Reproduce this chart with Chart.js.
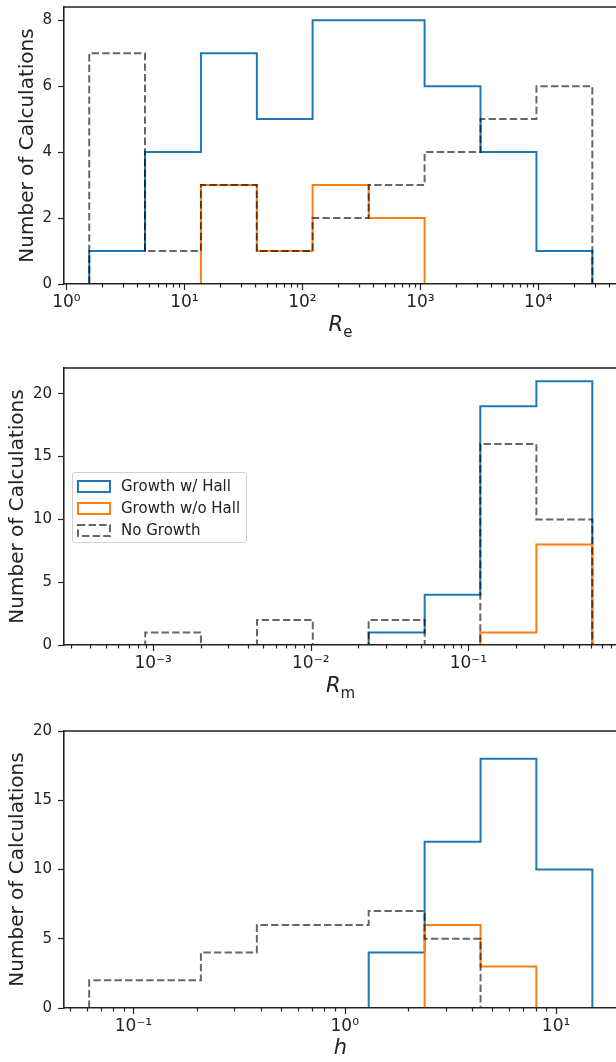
<!DOCTYPE html>
<html>
<head>
<meta charset="utf-8">
<script src="https://cdn.jsdelivr.net/npm/chart.js@4/dist/chart.umd.min.js"></script>
<style>
  html, body { margin: 0; padding: 0; width: 616px; height: 1062px; overflow: hidden; background: #fff; }
  canvas { position: absolute; left: 0; }
  .xtitle { position: absolute; left: 0; width: 681px; text-align: center; font-family: 'DejaVu Sans'; font-size: 21px; line-height: 21px; color: #222; }
  .xtitle i { font-style: italic; }
  .xtitle span { font-size: 15px; position: relative; top: 6px; }
  #legend { position: absolute; left: 72px; top: 472px; width: 173px; height: 69px; border: 1px solid #d0d0d0; border-radius: 3px; background: rgba(255,255,255,0.8); font-family: 'DejaVu Sans'; font-size: 15px; color: #222; }
  #legend div { position: absolute; left: 0; height: 22px; line-height: 22px; white-space: nowrap; }
  #legend svg { position: absolute; left: 4px; top: 5px; }
  #legend b { font-weight: normal; position: absolute; left: 48px; }
</style>
</head>
<body>
<canvas id="c1" width="640" height="340" style="top:-13px"></canvas>
<canvas id="c2" width="640" height="340" style="top:348px"></canvas>
<canvas id="c3" width="640" height="340" style="top:711px"></canvas>

<div class="xtitle" style="top:314px"><i>R</i><span>e</span></div>
<div class="xtitle" style="top:675px"><i>R</i><span>m</span></div>
<div class="xtitle" style="top:1037px"><i>h</i></div>

<div id="legend">
  <div style="top:2px"><svg width="34" height="13"><rect x="1" y="1" width="32" height="11" fill="none" stroke="#1f77b4" stroke-width="2"/></svg><b>Growth w/ Hall</b></div>
  <div style="top:24px"><svg width="34" height="13"><rect x="1" y="1" width="32" height="11" fill="none" stroke="#ff7f0e" stroke-width="2"/></svg><b>Growth w/o Hall</b></div>
  <div style="top:46px"><svg width="34" height="13"><rect x="1" y="1" width="32" height="11" fill="none" stroke="rgba(0,0,0,0.6)" stroke-width="2" stroke-dasharray="7.4 3.2"/></svg><b>No Growth</b></div>
</div>

<script>
// bin edges and counts
const reEdges = [1.56, 4.63, 13.8, 41.1, 122, 365, 1086, 3236, 9640, 28700];
const reHall = [1, 4, 7, 5, 8, 8, 6, 4, 1];
const reNoHall = [0, 0, 3, 1, 3, 2, 0, 0, 0];
const reNone = [7, 1, 3, 1, 2, 3, 4, 5, 6];

const rmEdges = [3.94e-4, 8.91e-4, 2.01e-3, 4.56e-3, 1.03e-2, 2.33e-2, 5.28e-2, 0.119, 0.270, 0.611];
const rmHall = [0, 0, 0, 0, 0, 1, 4, 19, 21];
const rmNoHall = [0, 0, 0, 0, 0, 0, 0, 1, 8];
const rmNone = [0, 1, 0, 2, 0, 2, 0, 16, 10];

const hEdges = [0.0617, 0.1135, 0.2085, 0.3837, 0.706, 1.298, 2.388, 4.393, 8.07, 14.86];
const hHall = [0, 0, 0, 0, 0, 4, 12, 18, 10];
const hNoHall = [0, 0, 0, 0, 0, 0, 6, 3, 0];
const hNone = [2, 2, 4, 6, 6, 7, 5, 0, 0];

const yTitle = 'Number of Calculations';
const INK = '#222';
const BLUE = '#1f77b4', ORANGE = '#ff7f0e', GREY = 'rgba(0,0,0,0.6)';

const SUP = {'-': '⁻', '0': '⁰', '1': '¹', '2': '²', '3': '³', '4': '⁴', '5': '⁵', '6': '⁶', '7': '⁷', '8': '⁸', '9': '⁹'};

function isDecade(v) {
  const l = Math.log10(v);
  return Math.abs(l - Math.round(l)) < 1e-9;
}

// outline of a step histogram: up at the first edge, across each bin, down at the last edge
function stepPoints(edges, counts) {
  const pts = [{x: edges[0], y: 0}];
  counts.forEach((c, i) => pts.push({x: edges[i], y: c}));
  pts.push({x: edges[edges.length - 1], y: counts[counts.length - 1]});
  pts.push({x: edges[edges.length - 1], y: 0});
  return pts;
}

const frame = {
  id: 'frame',
  afterDatasetsDraw(chart) {
    const {ctx, chartArea: a} = chart;
    const x = chart.scales.x;
    ctx.save();
    ctx.strokeStyle = INK;
    ctx.lineWidth = 1.6;
    ctx.beginPath();
    ctx.moveTo(a.left, a.top);
    ctx.lineTo(a.right, a.top);
    ctx.lineTo(a.right, a.bottom);
    ctx.stroke();
    ctx.lineWidth = 1.2;
    x.ticks.forEach(t => {
      const px = Math.round(x.getPixelForValue(t.value)) + 0.5;
      const len = isDecade(t.value) ? 6 : 3.5;
      ctx.beginPath();
      ctx.moveTo(px, a.bottom);
      ctx.lineTo(px, a.bottom + len);
      ctx.stroke();
    });
    ctx.restore();
  }
};

function makeChart(id, edges, hall, noHall, none, xMin, xMax, yMax, yStep, titlePad) {
  const line = (label, data, color, order, dash) => ({
    label, data: stepPoints(edges, data), borderColor: color, borderWidth: 2,
    borderDash: dash || [], stepped: 'before', pointRadius: 0, fill: false,
    borderJoinStyle: 'miter', order
  });
  return new Chart(document.getElementById(id), {
    type: 'line',
    data: {
      datasets: [
        line('No Growth', none, GREY, 0, [7.4, 3.2]),
        line('Growth w/o Hall', noHall, ORANGE, 1),
        line('Growth w/ Hall', hall, BLUE, 2)
      ]
    },
    options: {
      responsive: false,
      devicePixelRatio: 1,
      animation: false,
      layout: {padding: {top: 20, right: 22.5, left: 0, bottom: 0}},
      plugins: {legend: {display: false}, tooltip: {enabled: false}},
      scales: {
        x: {
          type: 'logarithmic', min: xMin, max: xMax,
          grid: {display: false, drawTicks: false},
          border: {display: true, color: INK, width: 1.6, z: 1},
          afterBuildTicks: s => {
            const vals = [];
            for (let e = Math.floor(Math.log10(xMin)); e <= Math.ceil(Math.log10(xMax)); e++) {
              for (let k = 1; k < 10; k++) {
                const v = k * Math.pow(10, e);
                if (v >= xMin && v <= xMax) vals.push({value: v});
              }
            }
            s.ticks = vals;
          },
          afterFit: s => { s.height = 43; },
          ticks: {
            autoSkip: false, maxRotation: 0, minRotation: 0, padding: 8, color: INK,
            font: {family: 'DejaVu Sans', size: 17},
            callback: v => isDecade(v) ? '10' + String(Math.round(Math.log10(v))).split('').map(c => SUP[c]).join('') : ''
          }
        },
        y: {
          min: 0, max: yMax,
          grid: {drawOnChartArea: false, drawTicks: true, tickLength: 6, tickColor: INK, tickWidth: 1.2},
          border: {display: true, color: INK, width: 1.6, z: 1},
          afterFit: s => { s.width = 64; },
          ticks: {stepSize: yStep, includeBounds: false, padding: 6, color: INK, font: {family: 'DejaVu Sans', size: 15}},
          title: {display: true, text: yTitle, color: INK, font: {family: 'DejaVu Sans', size: 20}, padding: {top: titlePad, bottom: 0}}
        }
      }
    },
    plugins: [frame]
  });
}

makeChart('c1', reEdges, reHall, reNoHall, reNone, 0.953, 46900, 8.4, 2, 16);
makeChart('c2', rmEdges, rmHall, rmNoHall, rmNone, 2.72e-4, 0.883, 22.05, 5, 6);
makeChart('c3', hEdges, hHall, hNoHall, hNone, 0.0469, 19.54, 20, 5, 6);
</script>
</body>
</html>
